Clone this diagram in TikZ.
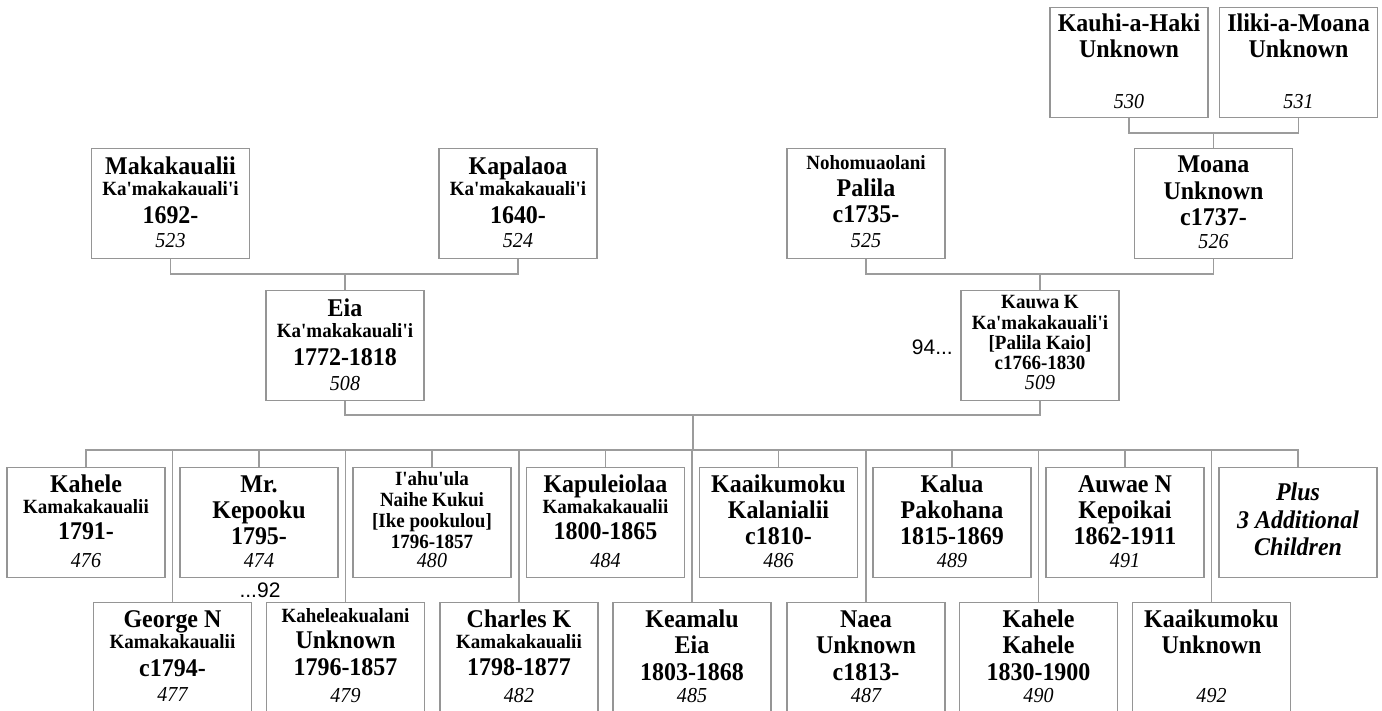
\documentclass[tikz,border=0pt]{standalone}
\usepackage{fontspec}
\newfontfamily\srf{Liberation Serif}[FakeStretch=0.94]
\newfontfamily\sns{Liberation Sans}
\definecolor{boxgray}{HTML}{959595}
\definecolor{linegray}{HTML}{9C9C9C}
\tikzset{
  bx/.style={draw=boxgray, line width=1.3pt, minimum width=158pt, minimum height=110pt, inner sep=0pt, anchor=north, fill=white},
  bxlow/.style={bx, minimum height=120pt},
  big/.style={font=\srf\bfseries\fontsize{25.5}{27}\selectfont, anchor=base, inner sep=0pt},
  sml/.style={font=\srf\bfseries\fontsize{20.2}{22}\selectfont, anchor=base, inner sep=0pt},
  num/.style={font=\srf\itshape\fontsize{21.3}{23}\selectfont, anchor=base, inner sep=0pt},
  bit/.style={font=\srf\bfseries\itshape\fontsize{25.5}{27}\selectfont, anchor=base, inner sep=0pt},
  note/.style={font=\sns\fontsize{21}{23}\selectfont, inner sep=0pt},
  conn/.style={draw=linegray, line width=1.2pt}
}
\newcommand\crd[4][bx]{\node[#1] (#2) at (#3,#4) {};}
\newcommand\lin[5]{\node[#1] (#2-#3) at ([yshift=-#4pt]#2.north) {#5};}
\begin{document}
\begin{tikzpicture}[x=1pt,y=-1pt]
\useasboundingbox[fill=white] (0,0) rectangle (1382,711);
% --- boxes ---
\crd{b530}{1129}{7}
\lin{big}{b530}{1}{25}{Kauhi-a-Haki}
\lin{big}{b530}{2}{51}{Unknown}
\lin{num}{b530}{3}{102}{530}
\crd{b531}{1298.5}{7}
\lin{big}{b531}{1}{25}{Iliki-a-Moana}
\lin{big}{b531}{2}{51}{Unknown}
\lin{num}{b531}{3}{102}{531}
%
\crd{b523}{170.5}{148}
\lin{big}{b523}{1}{27}{Makakaualii}
\lin{sml}{b523}{2}{48}{Ka'makakauali'i}
\lin{big}{b523}{3}{76}{1692-}
\lin{num}{b523}{4}{100}{523}
\crd{b524}{518}{148}
\lin{big}{b524}{1}{27}{Kapalaoa}
\lin{sml}{b524}{2}{48}{Ka'makakauali'i}
\lin{big}{b524}{3}{76}{1640-}
\lin{num}{b524}{4}{100}{524}
\crd{b525}{866}{148}
\lin{sml}{b525}{1}{22}{Nohomuaolani}
\lin{big}{b525}{2}{49}{Palila}
\lin{big}{b525}{3}{75}{c1735-}
\lin{num}{b525}{4}{100}{525}
\crd{b526}{1213.5}{148}
\lin{big}{b526}{1}{25}{Moana}
\lin{big}{b526}{2}{52}{Unknown}
\lin{big}{b526}{3}{78}{c1737-}
\lin{num}{b526}{4}{101}{526}
%
\crd{b508}{345}{290}
\lin{big}{b508}{1}{27}{Eia}
\lin{sml}{b508}{2}{48}{Ka'makakauali'i}
\lin{big}{b508}{3}{76}{1772-1818}
\lin{num}{b508}{4}{100}{508}
\crd{b509}{1040}{290}
\lin{sml}{b509}{1}{19}{Kauwa K}
\lin{sml}{b509}{2}{40}{Ka'makakauali'i}
\lin{sml}{b509}{3}{60}{[Palila Kaio]}
\lin{sml}{b509}{4}{80}{c1766-1830}
\lin{num}{b509}{5}{99}{509}
%
\crd{b476}{86}{467}
\lin{big}{b476}{1}{25}{Kahele}
\lin{sml}{b476}{2}{46}{Kamakakaualii}
\lin{big}{b476}{3}{72}{1791-}
\lin{num}{b476}{4}{100}{476}
\crd{b474}{259}{467}
\lin{big}{b474}{1}{25}{Mr.}
\lin{big}{b474}{2}{51}{Kepooku}
\lin{big}{b474}{3}{77}{1795-}
\lin{num}{b474}{4}{100}{474}
\crd{b480}{432}{467}
\lin{sml}{b480}{1}{18}{I'ahu'ula}
\lin{sml}{b480}{2}{39}{Naihe Kukui}
\lin{sml}{b480}{3}{60}{[Ike pookulou]}
\lin{sml}{b480}{4}{81}{1796-1857}
\lin{num}{b480}{5}{100}{480}
\crd{b484}{605.5}{467}
\lin{big}{b484}{1}{25}{Kapuleiolaa}
\lin{sml}{b484}{2}{46}{Kamakakaualii}
\lin{big}{b484}{3}{72}{1800-1865}
\lin{num}{b484}{4}{100}{484}
\crd{b486}{778.5}{467}
\lin{big}{b486}{1}{25}{Kaaikumoku}
\lin{big}{b486}{2}{51}{Kalanialii}
\lin{big}{b486}{3}{77}{c1810-}
\lin{num}{b486}{4}{100}{486}
\crd{b489}{952}{467}
\lin{big}{b489}{1}{25}{Kalua}
\lin{big}{b489}{2}{51}{Pakohana}
\lin{big}{b489}{3}{77}{1815-1869}
\lin{num}{b489}{4}{100}{489}
\crd{b491}{1125}{467}
\lin{big}{b491}{1}{25}{Auwae N}
\lin{big}{b491}{2}{51}{Kepoikai}
\lin{big}{b491}{3}{77}{1862-1911}
\lin{num}{b491}{4}{100}{491}
\crd{bplus}{1298}{467}
\lin{bit}{bplus}{1}{33}{Plus}
\lin{bit}{bplus}{2}{61}{3 Additional}
\lin{bit}{bplus}{3}{88}{Children}
%
\crd[bxlow]{b477}{172.5}{602}
\lin{big}{b477}{1}{25}{George N}
\lin{sml}{b477}{2}{46}{Kamakakaualii}
\lin{big}{b477}{3}{74}{c1794-}
\lin{num}{b477}{4}{99}{477}
\crd[bxlow]{b479}{345.5}{602}
\lin{sml}{b479}{1}{20}{Kaheleakualani}
\lin{big}{b479}{2}{46}{Unknown}
\lin{big}{b479}{3}{73}{1796-1857}
\lin{num}{b479}{4}{100}{479}
\crd[bxlow]{b482}{519}{602}
\lin{big}{b482}{1}{25}{Charles K}
\lin{sml}{b482}{2}{46}{Kamakakaualii}
\lin{big}{b482}{3}{73}{1798-1877}
\lin{num}{b482}{4}{100}{482}
\crd[bxlow]{b485}{692}{602}
\lin{big}{b485}{1}{25}{Keamalu}
\lin{big}{b485}{2}{51}{Eia}
\lin{big}{b485}{3}{78}{1803-1868}
\lin{num}{b485}{4}{100}{485}
\crd[bxlow]{b487}{866}{602}
\lin{big}{b487}{1}{25}{Naea}
\lin{big}{b487}{2}{51}{Unknown}
\lin{big}{b487}{3}{78}{c1813-}
\lin{num}{b487}{4}{100}{487}
\crd[bxlow]{b490}{1038.5}{602}
\lin{big}{b490}{1}{25}{Kahele}
\lin{big}{b490}{2}{51}{Kahele}
\lin{big}{b490}{3}{78}{1830-1900}
\lin{num}{b490}{4}{100}{490}
\crd[bxlow]{b492}{1211.5}{602}
\lin{big}{b492}{1}{25}{Kaaikumoku}
\lin{big}{b492}{2}{51}{Unknown}
\lin{num}{b492}{3}{100}{492}
% --- notes ---
\node[note, anchor=base east] (n94) at (953,355) {94...};
\node[note, anchor=base] (n92) at (260,597) {...92};
% --- connectors ---
\coordinate (j1) at (1213.5,133);
\coordinate (j2) at (345,274);
\coordinate (j3) at (1040,274);
\coordinate (j4) at (693,415);
\coordinate (j5) at (693,450);
\draw[conn] (b530.south) |- (j1) -| (b531.south);
\draw[conn] (j1) -- (b526.north);
\draw[conn] (b523.south) |- (j2) -| (b524.south);
\draw[conn] (j2) -- (b508.north);
\draw[conn] (b525.south) |- (j3) -| (b526.south);
\draw[conn] (j3) -- (b509.north);
\draw[conn] (b508.south) |- (j4) -| (b509.south);
\draw[conn] (j4) -- (j5);
\draw[conn] (b476.north) |- (j5) -| (bplus.north);
\foreach \c in {b474,b480,b484,b486,b489,b491,b477,b479,b482,b485,b487,b490,b492}
  \draw[conn] (\c.north) -- (\c.north |- j5);
\end{tikzpicture}
\end{document}
